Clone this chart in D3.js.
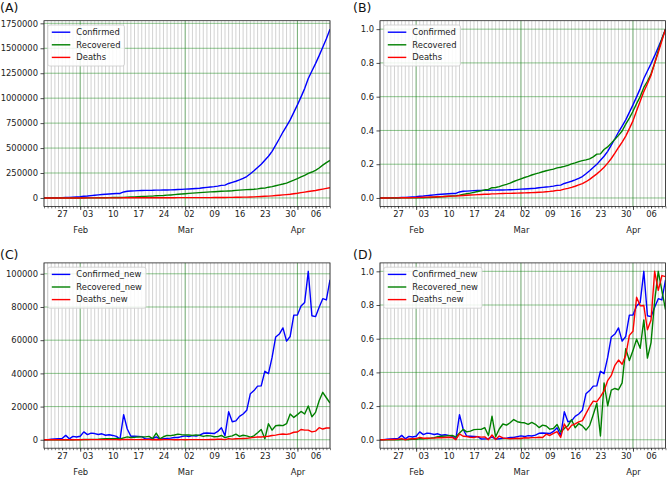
<!DOCTYPE html>
<html>
<head>
<meta charset="utf-8">
<script src="https://cdn.jsdelivr.net/npm/d3@7"></script>
<style>
  html, body { margin: 0; padding: 0; background: #fff; }
  svg { display: block; font-family: "DejaVu Sans", sans-serif; }
</style>
</head>
<body>
<svg id="chart" width="667" height="478"></svg>
<script>
// ---- Data: global cumulative counts, 2020-01-22 .. 2020-04-10 ----
const startDay = "2020-01-22";
const confirmed = [
  555, 654, 941, 1434, 2118, 2927, 5578, 6166, 8234, 9927,
  12038, 16787, 19881, 23892, 27635, 30794, 34391, 37120, 40150, 42762,
  44802, 45221, 60368, 66885, 69030, 71224, 73258, 75136, 75639, 76197,
  76819, 78572, 78958, 79561, 80406, 81388, 82746, 84112, 86011, 88369,
  90306, 92840, 95120, 97886, 101801, 105847, 109821, 113590, 118620, 125875,
  128352, 145205, 156101, 167454, 181574, 197102, 214821, 242570, 272208, 304507,
  336953, 378231, 418041, 467653, 529591, 593291, 660706, 720117, 782365, 857487,
  932605, 1013157, 1095917, 1197405, 1272115, 1346299, 1426096, 1511104, 1595350, 1691719
];
const recovered = [
  28, 30, 36, 39, 52, 61, 107, 126, 143, 222,
  284, 472, 623, 852, 1124, 1487, 2011, 2616, 3244, 3946,
  4683, 5150, 6295, 8058, 9395, 10865, 12583, 14352, 16121, 18177,
  18890, 22886, 23394, 25227, 27905, 30384, 33277, 36711, 39782, 42716,
  45602, 48228, 51170, 53796, 55865, 58358, 60694, 62494, 64404, 67003,
  68324, 70251, 72624, 76034, 78088, 80840, 83207, 84854, 87256, 91499,
  97704, 98345, 107987, 113770, 122203, 130915, 139415, 149082, 164566, 178034,
  193177, 210263, 225796, 246152, 260012, 276515, 300054, 328661, 353975, 376096
];
const deaths = [
  17, 18, 26, 42, 56, 82, 131, 133, 171, 213,
  259, 362, 426, 492, 564, 634, 719, 806, 906, 1013,
  1113, 1118, 1371, 1523, 1666, 1770, 1868, 2007, 2122, 2247,
  2251, 2458, 2469, 2629, 2708, 2770, 2814, 2872, 2941, 2996,
  3085, 3160, 3254, 3348, 3460, 3558, 3802, 3988, 4262, 4615,
  4720, 5404, 5819, 6440, 7126, 7905, 8733, 9867, 11299, 12973,
  14623, 16497, 18615, 21181, 23970, 27198, 30652, 33925, 37582, 42107,
  46809, 52983, 58787, 64606, 69374, 74565, 81865, 88338, 95455, 102525
];

// ---- Tick labels ----
const yTicksA = [0, 250000, 500000, 750000, 1000000, 1250000, 1500000, 1750000];
const yTicksC = [0, 20000, 40000, 60000, 80000, 100000];
const yTicksNorm = [0.0, 0.2, 0.4, 0.6, 0.8, 1.0];
const weekTicks = ["2020-01-27","2020-02-03","2020-02-10","2020-02-17","2020-02-24",
  "2020-03-02","2020-03-09","2020-03-16","2020-03-23","2020-03-30","2020-04-06"];
const monthTicks = ["2020-02-01","2020-03-01","2020-04-01"];
const seriesNames = ["Confirmed", "Recovered", "Deaths"];
const seriesNamesNew = ["Confirmed_new", "Recovered_new", "Deaths_new"];
const colors = ["#0000ff", "#008000", "#ff0000"];
const panelTitles = ["(A)", "(B)", "(C)", "(D)"];

// ---- Derived series (as in the original pipeline) ----
const parse = d3.utcParse("%Y-%m-%d");
const start = parse(startDay);
const dates = confirmed.map((_, i) => d3.utcDay.offset(start, i));
const diff = arr => arr.map((v, i) => i === 0 ? 0 : v - arr[i - 1]);
const norm = arr => { const m = d3.max(arr); return arr.map(v => v / m); };
const cum = [confirmed, recovered, deaths];
const daily = cum.map(diff);

const svg = d3.select("#chart");

function panel(opts) {
  const { x0, x1, y0, y1, series, names, yTicks, yFmt, title, tx, ty } = opts;
  const g = svg.append("g");
  const x = d3.scaleUtc().domain([dates[0], dates[dates.length - 1]]).range([x0, x1]);
  const all = series.flat();
  const mn = d3.min(all), mx = d3.max(all), pad = (mx - mn) * 0.05;
  const y = d3.scaleLinear().domain([mn - pad, mx + pad]).range([y1, y0]);

  // minor daily grid
  g.append("g").selectAll("line").data(dates).join("line")
    .attr("x1", d => x(d)).attr("x2", d => x(d))
    .attr("y1", y0).attr("y2", y1)
    .attr("stroke", "#b4b4b4").attr("stroke-width", 0.6);
  // major green grid
  const mDates = monthTicks.map(parse);
  g.append("g").selectAll("line").data(mDates).join("line")
    .attr("x1", d => x(d)).attr("x2", d => x(d))
    .attr("y1", y0).attr("y2", y1)
    .attr("stroke", "rgba(0,128,0,0.5)").attr("stroke-width", 0.9);
  g.append("g").selectAll("line").data(yTicks).join("line")
    .attr("x1", x0).attr("x2", x1)
    .attr("y1", d => y(d)).attr("y2", d => y(d))
    .attr("stroke", "rgba(0,128,0,0.5)").attr("stroke-width", 0.9);

  // lines
  const clipId = "clip" + title.replace(/\W/g, "");
  svg.append("clipPath").attr("id", clipId).append("rect")
    .attr("x", x0).attr("y", y0).attr("width", x1 - x0).attr("height", y1 - y0);
  const line = d3.line().x((d, i) => x(dates[i])).y(d => y(d));
  g.append("g").attr("clip-path", `url(#${clipId})`).selectAll("path").data(series).join("path")
    .attr("d", line).attr("fill", "none")
    .attr("stroke", (d, i) => colors[i]).attr("stroke-width", 1.4)
    .attr("stroke-linejoin", "round");

  // frame
  g.append("rect").attr("x", x0).attr("y", y0).attr("width", x1 - x0).attr("height", y1 - y0)
    .attr("fill", "none").attr("stroke", "#222").attr("stroke-width", 0.8);

  // y axis
  const yAxis = d3.axisLeft(y).tickValues(yTicks).tickFormat(yFmt).tickSize(3.5).tickPadding(2.5);
  const ya = g.append("g").attr("transform", `translate(${x0},0)`).call(yAxis);
  ya.select(".domain").remove();
  ya.selectAll("line").attr("stroke", "#222").attr("stroke-width", 0.8);
  ya.selectAll("text").attr("font-size", "8.4px").attr("fill", "#222")
    .attr("font-family", "DejaVu Sans, sans-serif");

  // x axis: daily minor ticks
  const xMinor = d3.axisBottom(x).tickValues(dates).tickFormat("").tickSize(2);
  const xm = g.append("g").attr("transform", `translate(0,${y1})`).call(xMinor);
  xm.select(".domain").remove();
  xm.selectAll("line").attr("stroke", "#222").attr("stroke-width", 0.6);
  // weekly labels
  const xWeek = d3.axisBottom(x).tickValues(weekTicks.map(parse)).tickFormat(d3.utcFormat("%d")).tickSize(2).tickPadding(2.5);
  const xw = g.append("g").attr("transform", `translate(0,${y1})`).call(xWeek);
  xw.select(".domain").remove();
  xw.selectAll("line").attr("stroke", "#222").attr("stroke-width", 0.6);
  xw.selectAll("text").attr("font-size", "8.4px").attr("fill", "#222")
    .attr("font-family", "DejaVu Sans, sans-serif");
  // monthly labels
  const xMonth = d3.axisBottom(x).tickValues(mDates).tickFormat(d3.utcFormat("%b")).tickSize(3.5).tickPadding(17.5);
  const xmo = g.append("g").attr("transform", `translate(0,${y1})`).call(xMonth);
  xmo.select(".domain").remove();
  xmo.selectAll("line").attr("stroke", "#222").attr("stroke-width", 0.8);
  xmo.selectAll("text").attr("font-size", "8.4px").attr("fill", "#222")
    .attr("font-family", "DejaVu Sans, sans-serif");

  // legend
  const lg = g.append("g").attr("transform", `translate(${x0 + 3.8},${y0 + 4.3})`);
  const box = lg.append("rect").attr("rx", 2).attr("ry", 2)
    .attr("fill", "rgba(255,255,255,0.85)").attr("stroke", "#cccccc").attr("stroke-width", 0.8);
  const rows = lg.selectAll("g.row").data(names).join("g").attr("class", "row")
    .attr("transform", (d, i) => `translate(0,${7.2 + i * 12.6})`);
  rows.append("line").attr("x1", 4).attr("x2", 22.5).attr("y1", 0).attr("y2", 0)
    .attr("stroke", (d, i) => colors[i]).attr("stroke-width", 1.4);
  const texts = rows.append("text").attr("x", 28.5).attr("y", 0).attr("dy", "0.32em")
    .attr("font-size", "8.4px").attr("fill", "#222").text(d => d);
  let w = 0;
  texts.each(function () { w = Math.max(w, this.getComputedTextLength()); });
  box.attr("x", 0).attr("y", 0).attr("width", 28.5 + w + 4).attr("height", 41);

  // title
  svg.append("text").attr("x", tx).attr("y", ty).attr("font-size", "12.5px").attr("fill", "#111").text(title);
}

const fmtInt = d3.format("d");
const fmt1 = d3.format(".1f");
const rowTop = { y0: 20.7, y1: 206.4 };
const rowBot = { y0: 262.9, y1: 448.2 };

panel({ x0: 44, x1: 330, ...rowTop, series: cum, names: seriesNames, yTicks: yTicksA, yFmt: fmtInt, title: panelTitles[0], tx: 0, ty: 12.2 });
panel({ x0: 380, x1: 665.5, ...rowTop, series: cum.map(norm), names: seriesNames, yTicks: yTicksNorm, yFmt: fmt1, title: panelTitles[1], tx: 353, ty: 12.2 });
panel({ x0: 44, x1: 330, ...rowBot, series: daily, names: seriesNamesNew, yTicks: yTicksC, yFmt: fmtInt, title: panelTitles[2], tx: 0, ty: 259.3 });
panel({ x0: 380, x1: 665.5, ...rowBot, series: daily.map(norm), names: seriesNamesNew, yTicks: yTicksNorm, yFmt: fmt1, title: panelTitles[3], tx: 353, ty: 259.3 });
</script>
</body>
</html>
